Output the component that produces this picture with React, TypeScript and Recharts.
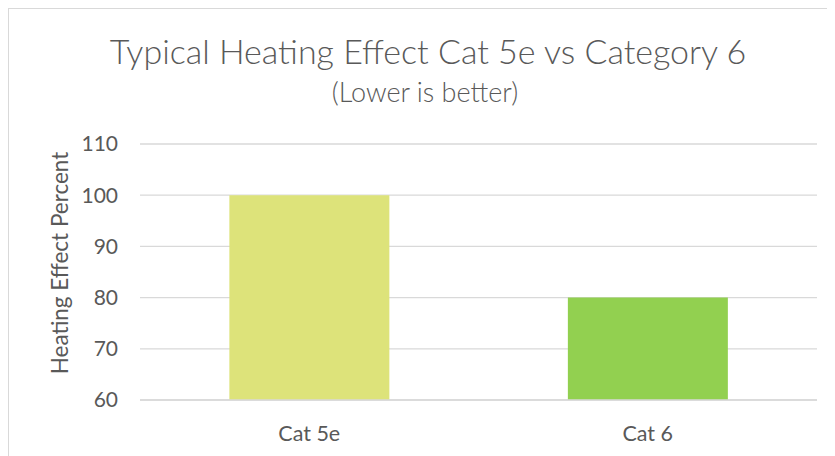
import React from 'react';
import { BarChart, Bar, Cell, CartesianGrid, XAxis, YAxis } from 'recharts';

const categories = ['Cat 5e', 'Cat 6'];
const heatingEffect = [100, 80];
const barColors = ['#DDE37A', '#92D050'];
const yTicks = [60, 70, 80, 90, 100, 110];

const title = 'Typical Heating Effect Cat 5e vs Category 6';
const subtitle = '(Lower is better)';
const yLabel = 'Heating Effect Percent';

const data = categories.map((name, i) => ({ name, value: heatingEffect[i] }));

const FONT = 'Lato, "Open Sans", sans-serif';
const TEXT = '#595959';
const GRID = '#d9d9d9';

const YLabel = ({ viewBox }: any) => {
  const x = 50;
  const y = viewBox.y + viewBox.height / 2 - 9;
  return (
    <text
      x={x}
      y={y}
      transform={`rotate(-90, ${x}, ${y})`}
      textAnchor="middle"
      dominantBaseline="central"
      fill={TEXT}
      fontSize={22.5}
      fontFamily={FONT}
    >
      {yLabel}
    </text>
  );
};

const App = () => {
  return (
    <div
      style={{
        position: 'relative',
        width: 826,
        height: 447,
        borderTop: `1px solid ${GRID}`,
        borderLeft: `1px solid ${GRID}`,
        background: '#fff',
      }}
    >
      <BarChart
        width={826}
        height={447}
        data={data}
        margin={{ top: 135, right: 18, bottom: 0, left: 0 }}
        barCategoryGap="26.4%"
      >
        <CartesianGrid vertical={false} stroke={GRID} strokeWidth={1.3} />
        <XAxis
          dataKey="name"
          height={56}
          axisLine={{ stroke: GRID, strokeWidth: 1.3 }}
          tickLine={false}
          tickSize={0}
          tickMargin={26}
          tick={{ fill: TEXT, fontSize: 21.5, fontFamily: FONT }}
        />
        <YAxis
          width={131}
          domain={[60, 110]}
          ticks={yTicks}
          allowDataOverflow
          axisLine={false}
          tickLine={false}
          tickSize={0}
          tickMargin={22}
          tick={{ fill: TEXT, fontSize: 21, fontFamily: FONT }}
          label={<YLabel />}
        />
        <Bar dataKey="value" isAnimationActive={false}>
          {data.map((d, i) => (
            <Cell key={d.name} fill={barColors[i]} />
          ))}
        </Bar>
      </BarChart>
      <svg
        width={826}
        height={130}
        style={{ position: 'absolute', left: 0, top: 0, pointerEvents: 'none' }}
      >
        <text x={419} y={55} textAnchor="middle" fill={TEXT} fontSize={34} fontWeight={300} fontFamily={FONT}>
          {title}
        </text>
        <text x={416} y={93} textAnchor="middle" fill={TEXT} fontSize={27} fontWeight={300} fontFamily={FONT}>
          {subtitle}
        </text>
      </svg>
    </div>
  );
};

export default App;
